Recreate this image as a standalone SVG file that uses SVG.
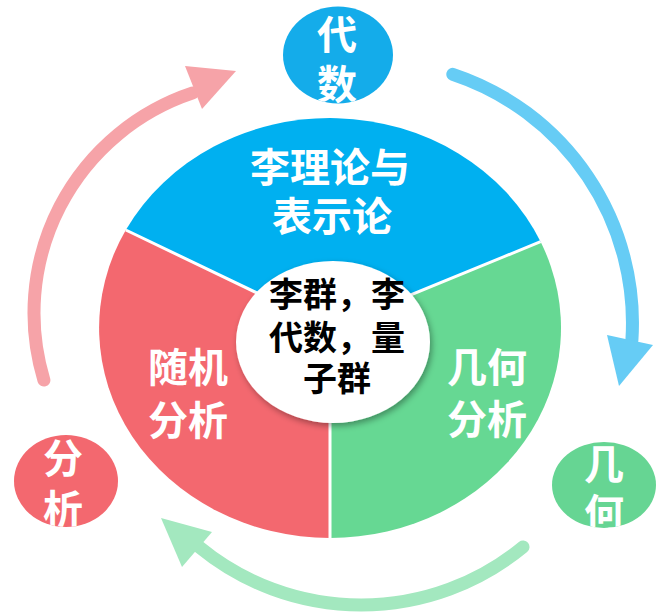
<svg xmlns="http://www.w3.org/2000/svg" width="662" height="616" viewBox="0 0 662 616">
<style>
  .lbl { font-family: "Noto Sans CJK SC", "Noto Sans", sans-serif; font-weight: 700; text-anchor: middle; dominant-baseline: central; }
  .w { fill: #FFFFFF; font-size: 40px; }
  .k { fill: #000000; font-size: 34px; }
  .sep { stroke: #FFFFFF; stroke-width: 3; fill: none; }
  .arc { fill: none; stroke-width: 13; stroke-linecap: round; }
</style>
<defs>
  <filter id="shadow" x="-20%" y="-20%" width="150%" height="150%">
    <feDropShadow dx="2" dy="3" stdDeviation="3" flood-color="#000" flood-opacity="0.35"/>
  </filter>
  <clipPath id="clipAlg"><ellipse cx="338" cy="55" rx="55" ry="48.5"/></clipPath>
  <clipPath id="clipAna"><ellipse cx="66" cy="481" rx="52" ry="46"/></clipPath>
  <clipPath id="clipGeo"><ellipse cx="604" cy="485" rx="52" ry="43"/></clipPath>
</defs>
<rect width="662" height="616" fill="#FFFFFF"/>

<g id="connectors">
  <path class="arc" stroke="#F6A3A8" d="M43.9,380.1 A232,232 0 0 1 192.8,92.9"/>
  <polygon fill="#F6A3A8" points="185,66 236,71 202,109"/>
  <path class="arc" stroke="#66CCF5" d="M452.8,74.3 A262,262 0 0 1 631.9,340.2"/>
  <polygon fill="#66CCF5" points="607,335 653,345 619,386"/>
  <path class="arc" stroke="#A3E8BF" d="M523,547 A255,255 0 0 1 199.2,547"/>
  <polygon fill="#A3E8BF" points="212,532 161,518 182,567"/>
</g>

<g id="pie">
  <g id="sector-lie">
    <path fill="#00B0F0" d="M330,328 L125.8,230 A231,210 0 0 1 540.6,241.7 Z"/>
    <text class="lbl w" x="330" y="165">李理论与</text>
    <text class="lbl w" x="332" y="214">表示论</text>
  </g>
  <g id="sector-geo">
    <path fill="#66D893" d="M330,328 L540.6,241.7 A231,210 0 0 1 330,538 Z"/>
    <text class="lbl w" x="487" y="365">几何</text>
    <text class="lbl w" x="487" y="417">分析</text>
  </g>
  <g id="sector-rand">
    <path fill="#F3686F" d="M330,328 L330,538 A231,210 0 0 1 125.8,230 Z"/>
    <text class="lbl w" x="188" y="365">随机</text>
    <text class="lbl w" x="188" y="418">分析</text>
  </g>
  <path class="sep" d="M330,328 L125.8,230 M330,328 L540.6,241.7 M330,328 L330,538"/>
</g>

<g id="center">
  <ellipse cx="333" cy="342" rx="97" ry="81" fill="#FFFFFF" filter="url(#shadow)"/>
  <text class="lbl k" x="337" y="292">李群，李</text>
  <text class="lbl k" x="337" y="335">代数，量</text>
  <text class="lbl k" x="337" y="376">子群</text>
</g>

<g id="node-algebra">
  <ellipse cx="338" cy="55" rx="55" ry="48.5" fill="#14ACEA"/>
  <g clip-path="url(#clipAlg)">
    <text class="lbl w" x="337" y="32">代</text>
    <text class="lbl w" x="337" y="82">数</text>
  </g>
</g>

<g id="node-analysis">
  <ellipse cx="66" cy="481" rx="52" ry="46" fill="#F3686F"/>
  <g clip-path="url(#clipAna)">
    <text class="lbl w" x="63" y="456">分</text>
    <text class="lbl w" x="63" y="507">析</text>
  </g>
</g>

<g id="node-geometry">
  <ellipse cx="604" cy="485" rx="52" ry="43" fill="#66D593"/>
  <g clip-path="url(#clipGeo)">
    <text class="lbl w" x="604" y="462">几</text>
    <text class="lbl w" x="604" y="511">何</text>
  </g>
</g>
</svg>
